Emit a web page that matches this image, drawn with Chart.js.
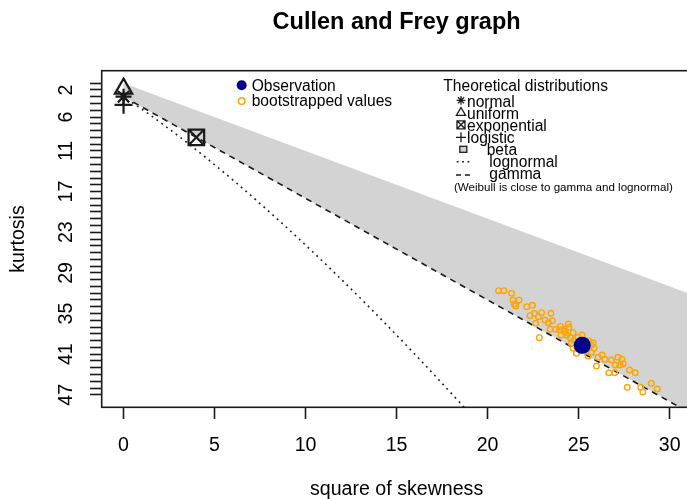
<!DOCTYPE html>
<html><head><meta charset="utf-8">
<script src="https://cdn.jsdelivr.net/npm/chart.js@4.4.1/dist/chart.umd.min.js"></script>
<style>html,body{margin:0;padding:0;overflow:hidden;background:#fff;width:687px;height:499px}canvas{display:block}</style>
</head><body><canvas id="c" width="700" height="499" style="width:700px;height:499px"></canvas>
<script>
// ---- data ----
const bootS2 = [20.60,20.89,21.32,21.40,21.73,21.47,21.54,22.15,22.46,22.33,22.57,22.79,22.97,23.48,22.64,23.15,23.33,23.55,23.73,23.43,22.84,24.03,24.21,24.43,24.47,24.28,24.70,24.88,24.70,25.19,25.80,25.85,25.70,25.52,26.07,26.29,26.44,25.98,26.80,27.16,27.38,27.02,27.26,27.45,26.66,26.98,27.80,28.11,27.67,28.41,28.53,28.99,29.32,
  24.55,24.75,24.95,25.05,24.60,24.90,25.35,25.55,24.35,25.10,25.70,24.20,23.95,24.00];
const bootKurt = [31.63,31.63,32.02,33.00,33.00,33.60,33.89,33.99,33.79,35.32,34.97,35.47,34.88,34.97,36.44,35.96,36.36,36.06,37.33,37.33,38.57,38.17,37.33,36.55,37.03,37.83,37.83,40.87,40.13,38.17,39.31,40.13,40.78,41.27,41.46,41.12,41.76,42.75,41.86,41.46,41.76,42.60,42.60,42.40,43.74,43.74,43.34,43.74,45.89,45.89,46.58,45.30,46.14,
  38.60,38.95,38.50,39.00,39.40,39.90,40.20,39.00,38.20,40.50,39.70,37.60,37.40,36.90];
const obsS2 = [25.2];
const obsKurt = [39.7];
const normalPt = [0, 3];
const uniformPt = [0, 1.8];
const exponentialPt = [4, 9];
const logisticPt = [0, 4.2];
const lognormS2 = [0.465, 0.961, 1.488, 2.048, 3.267, 4.624, 6.125, 7.776, 9.583, 11.552, 13.689, 16.0, 18.49, 21.17];
const lognormKurt = [3.84, 4.76, 5.76, 6.85, 9.32, 12.21, 15.56, 19.43, 23.85, 28.88, 34.58, 41.0, 48.2, 56.25];
const gammaS2 = [0.54, 31.2];
const gammaKurt = [3.81, 49.8];
const betaS2 = [0, 31.2, 31.2, 0];
const betaKurt = [1, 32.2, 49.8, 3];
const xTicks = [0, 5, 10, 15, 20, 25, 30];
const yTickLabels = ['2', '6', '11', '17', '23', '29', '35', '41', '47'];
const yTickMin = 1, yTickMax = 47;

// ---- helpers ----
const zip = (xs, ys) => xs.map((x, i) => ({x: x, y: ys[i]}));
const FONT = '"Liberation Sans", Arial, Helvetica, sans-serif';
const INK = '#1a1a1a';
Chart.defaults.font.family = FONT;
Chart.defaults.color = '#000';

function drawStar(ctx, x, y, r) {
  ctx.beginPath();
  ctx.moveTo(x - r, y); ctx.lineTo(x + r, y);
  ctx.moveTo(x, y - r); ctx.lineTo(x, y + r);
  const d = r * 0.7071;
  ctx.moveTo(x - d, y - d); ctx.lineTo(x + d, y + d);
  ctx.moveTo(x - d, y + d); ctx.lineTo(x + d, y - d);
  ctx.stroke();
}
function drawTri(ctx, x, y, r) {
  ctx.beginPath();
  ctx.moveTo(x, y - r);
  ctx.lineTo(x + r * 0.866, y + r * 0.5);
  ctx.lineTo(x - r * 0.866, y + r * 0.5);
  ctx.closePath(); ctx.stroke();
}
function drawBoxX(ctx, x, y, h) {
  ctx.beginPath();
  ctx.rect(x - h, y - h, 2 * h, 2 * h);
  ctx.moveTo(x - h, y - h); ctx.lineTo(x + h, y + h);
  ctx.moveTo(x - h, y + h); ctx.lineTo(x + h, y - h);
  ctx.stroke();
}
function drawPlus(ctx, x, y, r) {
  ctx.beginPath();
  ctx.moveTo(x - r, y); ctx.lineTo(x + r, y);
  ctx.moveTo(x, y - r); ctx.lineTo(x, y + r);
  ctx.stroke();
}

const boxPlugin = {
  id: 'box',
  afterDraw(chart) {
    const {ctx, chartArea: a} = chart;
    ctx.save();
    ctx.strokeStyle = INK; ctx.lineWidth = 1.6;
    ctx.strokeRect(a.left, a.top, a.right - a.left, a.bottom - a.top);
    ctx.restore();
  }
};

const legendPlugin = {
  id: 'rlegend',
  afterDraw(chart) {
    const ctx = chart.ctx;
    ctx.save();
    ctx.textBaseline = 'alphabetic';
    ctx.textAlign = 'left';
    ctx.fillStyle = '#000';
    ctx.font = '15.6px ' + FONT;
    // left legend
    ctx.beginPath(); ctx.arc(241.7, 85.3, 5, 0, Math.PI * 2); ctx.fillStyle = '#00008B'; ctx.fill();
    ctx.beginPath(); ctx.arc(241.7, 101, 3.3, 0, Math.PI * 2); ctx.strokeStyle = '#FFA500'; ctx.lineWidth = 1.5; ctx.stroke();
    ctx.fillStyle = '#000';
    ctx.fillText('Observation', 251.7, 90.7);
    ctx.fillText('bootstrapped values', 251.7, 106);
    // right legend
    ctx.fillText('Theoretical distributions', 443.3, 90.7);
    ctx.fillText('normal', 467, 106.6);
    ctx.fillText('uniform', 467, 118.7);
    ctx.fillText('exponential', 467, 130.9);
    ctx.fillText('logistic', 467, 143.0);
    ctx.fillText('beta', 486.7, 155.2);
    ctx.fillText('lognormal', 489.3, 167.3);
    ctx.fillText('gamma', 489.3, 179.4);
    ctx.font = '11.6px ' + FONT;
    ctx.fillText('(Weibull is close to gamma and lognormal)', 454, 191.4);
    ctx.strokeStyle = INK; ctx.lineWidth = 1.3;
    drawStar(ctx, 461, 100.3, 4.4);
    drawTri(ctx, 461, 112.8, 5.3);
    drawBoxX(ctx, 461, 124.8, 4);
    drawPlus(ctx, 461, 137.3, 5);
    ctx.fillStyle = '#D3D3D3';
    ctx.fillRect(459.8, 146.3, 7, 6); ctx.strokeRect(459.8, 146.3, 7, 6);
    ctx.lineWidth = 1.4;
    ctx.setLineDash([1.8, 3.6]);
    ctx.beginPath(); ctx.moveTo(456.7, 161.7); ctx.lineTo(472, 161.7); ctx.stroke();
    ctx.setLineDash([5, 4]);
    ctx.beginPath(); ctx.moveTo(456, 175); ctx.lineTo(474, 175); ctx.stroke();
    ctx.restore();
  }
};

const markerPlugin = {
  id: 'theo',
  afterDatasetsDraw(chart) {
    // theoretical points, drawn at the scale positions
    const {ctx, scales: {x, y}} = chart;
    ctx.save();
    ctx.strokeStyle = INK; ctx.lineWidth = 2.2;
    drawStar(ctx, x.getPixelForValue(normalPt[0]), y.getPixelForValue(normalPt[1]), 8);
    drawTri(ctx, x.getPixelForValue(uniformPt[0]), y.getPixelForValue(uniformPt[1]), 10);
    drawBoxX(ctx, x.getPixelForValue(exponentialPt[0]), y.getPixelForValue(exponentialPt[1]), 7.8);
    drawPlus(ctx, x.getPixelForValue(logisticPt[0]), y.getPixelForValue(logisticPt[1]), 9);
    ctx.restore();
  }
};

new Chart(document.getElementById('c'), {
  type: 'line',
  data: {
    datasets: [
      { label: 'Observation', data: zip(obsS2, obsKurt), showLine: false,
        pointRadius: 8.5, pointBackgroundColor: '#00008B', pointBorderColor: '#00008B', pointBorderWidth: 0 },
      { label: 'bootstrapped values', data: zip(bootS2, bootKurt), showLine: false,
        pointRadius: 2.8, pointBackgroundColor: 'rgba(0,0,0,0)', pointBorderColor: '#FFA500', pointBorderWidth: 1.4 },
      { label: 'gamma', data: zip(gammaS2, gammaKurt), borderColor: INK, borderWidth: 1.6,
        borderDash: [6, 5], pointRadius: 0, fill: false },
      { label: 'lognormal', data: zip(lognormS2, lognormKurt), borderColor: INK, borderWidth: 1.6,
        borderDash: [1.8, 4.2], pointRadius: 0, fill: false, cubicInterpolationMode: 'monotone' },
      { label: 'beta', data: zip(betaS2, betaKurt), borderWidth: 0, borderColor: 'rgba(0,0,0,0)',
        backgroundColor: '#D3D3D3', pointRadius: 0, fill: 'shape' }
    ]
  },
  options: {
    responsive: false,
    animation: false,
    events: [],
    layout: { padding: { left: 0, right: 6.3, top: 0, bottom: 0 } },
    plugins: {
      legend: { display: false },
      tooltip: { enabled: false },
      title: { display: true, text: 'Cullen and Frey graph', fullSize: false, color: '#000',
        font: { size: 23.5, weight: 'bold', lineHeight: 1.2, family: FONT },
        padding: { top: 8.4, bottom: 34.1 } }
    },
    scales: {
      x: {
        type: 'linear', min: -1.2, max: 31.2,
        afterBuildTicks: (s) => { s.ticks = xTicks.map(v => ({value: v})); },
        afterFit: (s) => { s.height = 91.7; },
        grid: { drawOnChartArea: false, drawTicks: true, tickLength: 11.7, tickColor: INK, tickWidth: 1.6 },
        border: { display: false },
        ticks: { autoSkip: false, maxRotation: 0, minRotation: 0, padding: 14.4, color: '#000',
          font: { size: 19.6, family: FONT }, callback: (v) => String(v) },
        title: { display: true, text: 'square of skewness', color: '#000',
          font: { size: 19.6, family: FONT, lineHeight: 0.9 }, padding: { top: 0, bottom: 0.2 } }
      },
      y: {
        type: 'linear', reverse: true, min: -0.84, max: 48.84,
        afterBuildTicks: (s) => { const t = []; for (let v = yTickMin; v <= yTickMax; v++) t.push({value: v}); s.ticks = t; },
        afterFit: (s) => { s.width = 101.7; },
        grid: { drawOnChartArea: false, drawTicks: true, tickLength: 11.7, tickColor: INK, tickWidth: 1.6 },
        border: { display: false },
        ticks: { autoSkip: false, minRotation: 90, maxRotation: 90, crossAlign: 'center', padding: 12.5, color: '#000',
          font: { size: 19.6, family: FONT },
          callback: (v) => yTickLabels.includes(String(v)) ? String(v) : '' },
        title: { display: true, text: 'kurtosis', color: '#000',
          font: { size: 19.6, family: FONT, lineHeight: 1.2 }, padding: { top: 6.8, bottom: 0 } }
      }
    }
  },
  plugins: [boxPlugin, markerPlugin, legendPlugin]
});
</script></body></html>
